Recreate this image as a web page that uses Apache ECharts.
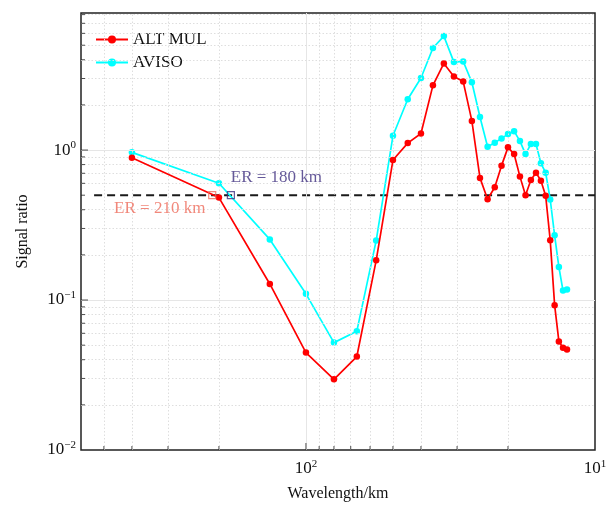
<!DOCTYPE html>
<html><head><meta charset="utf-8">
<script src="https://cdn.jsdelivr.net/npm/echarts@6/dist/echarts.min.js"></script>
<style>html,body{margin:0;padding:0;background:#fff}#c{width:610px;height:507px}</style>
</head><body><div id="c"></div>
<script>
// ---- data ----
const wavelengths = [25,50,75,100,125,150,175,200,225,250,275,300,325,350,375,400,425,450,475,500,525,550,575,600,625,650,675,700,725,750,775,800];
const altMul = [0.889,0.482,0.128,0.0446,0.0296,0.042,0.184,0.858,1.113,1.29,2.70,3.78,3.09,2.86,1.565,0.652,0.47,0.565,0.787,1.042,0.94,0.665,0.50,0.632,0.706,0.625,0.496,0.25,0.0924,0.053,0.0481,0.0467];
const aviso = [0.965,0.601,0.2535,0.110,0.052,0.062,0.249,1.245,2.18,3.02,4.79,5.75,3.86,3.90,2.83,1.66,1.052,1.118,1.196,1.277,1.337,1.148,0.94,1.096,1.096,0.816,0.706,0.468,0.27,0.166,0.1157,0.1175];
const thresholdY = 0.5;
const thresholdX = [18.5, 1000];
const erPoints = [[47.4, 0.5], [55, 0.5]];
const erLabels = ['ER = 210 km', 'ER = 180 km'];
const xTickLabels = [[100, '10', '2'], [1000, '10', '1']];
const yTickLabels = [[0.01, '10', '\u22122'], [0.1, '10', '\u22121'], [1, '10', '0']];
const xMinorTicks = [20, 25, 33.333, 50, 111.111, 125, 142.857, 166.667, 200, 250, 333.333, 500];
const xMajorTicks = [100];
const yMinorTicks = [0.02,0.03,0.04,0.05,0.06,0.07,0.08,0.09,0.2,0.3,0.4,0.5,0.6,0.7,0.8,0.9,2,3,4,5,6,7,8];
const yMajorTicks = [0.1, 1];

const X_MIN = 16.6667, X_MAX = 1000, Y_MIN = 0.01, Y_MAX = 8.2;
const FONT = 'Liberation Serif';
const AX = '#222';

function fmt(list) {
  return function (v) {
    for (const t of list) {
      if (Math.abs(Math.log10(v) - Math.log10(t[0])) < 1e-6) return t[1] + '{s|' + t[2] + '}';
    }
    return '';
  };
}
const richSup = {
  s: { fontSize: 11, fontFamily: FONT, color: '#111', padding: [0, 0, 9, 0] }
};

const chart = echarts.init(document.getElementById('c'), null, { renderer: 'canvas' });

const gridLines = [];
xMajorTicks.forEach(v => gridLines.push({ xAxis: v, lineStyle: { color: '#e6e6e6', type: 'solid', width: 1 } }));
xMinorTicks.forEach(v => gridLines.push({ xAxis: v, lineStyle: { color: '#dedede', type: [1.5, 2], width: 1 } }));
yMajorTicks.forEach(v => gridLines.push({ yAxis: v, lineStyle: { color: '#e6e6e6', type: 'solid', width: 1 } }));
yMinorTicks.filter(v => v !== thresholdY).forEach(v => gridLines.push({ yAxis: v, lineStyle: { color: '#dedede', type: [1.5, 2], width: 1 } }));

function tickSeries(data, size, offset) {
  return {
    type: 'scatter', silent: true, clip: false, z: 10,
    symbol: 'rect', symbolSize: size, symbolOffset: offset,
    itemStyle: { color: AX }, data: data, tooltip: { show: false }
  };
}

chart.setOption({
  animation: false,
  backgroundColor: '#fff',
  grid: { left: 81, right: 15, top: 13, bottom: 56, show: true, borderColor: AX, borderWidth: 1.5, backgroundColor: 'transparent' },
  legend: {
    data: ['ALT MUL', 'AVISO'], orient: 'vertical', left: 90, top: 26,
    itemWidth: 32, itemHeight: 10, itemGap: 6,
    textStyle: { fontFamily: FONT, fontSize: 17, color: '#111' }
  },
  xAxis: {
    type: 'log', logBase: 10, min: X_MIN, max: X_MAX, splitNumber: 2,
    name: 'Wavelength/km', nameLocation: 'middle', nameGap: 36,
    nameTextStyle: { fontFamily: FONT, fontSize: 16, color: '#111' },
    axisLine: { show: false }, axisTick: { show: false }, splitLine: { show: false },
    axisLabel: { show: true, showMinLabel: true, showMaxLabel: true, margin: 9, formatter: fmt(xTickLabels),
      fontFamily: FONT, fontSize: 17, color: '#111', rich: richSup }
  },
  yAxis: {
    type: 'log', logBase: 10, min: Y_MIN, max: Y_MAX, splitNumber: 3,
    name: 'Signal ratio', nameLocation: 'middle', nameGap: 50,
    nameTextStyle: { fontFamily: FONT, fontSize: 16, color: '#111' },
    axisLine: { show: false }, axisTick: { show: false }, splitLine: { show: false },
    axisLabel: { show: true, showMinLabel: true, showMaxLabel: true, margin: 5, formatter: fmt(yTickLabels),
      fontFamily: FONT, fontSize: 17, color: '#111', rich: richSup }
  },
  series: [
    {
      name: 'gridlines', type: 'line', data: [], silent: true, z: 0,
      markLine: { silent: true, symbol: ['none', 'none'], label: { show: false }, animation: false, data: gridLines }
    },
    {
      name: 'threshold', type: 'line', silent: true, z: 3, symbol: 'none',
      lineStyle: { color: '#1a1a1a', width: 2, type: [8, 5] },
      data: thresholdX.map(x => [x, thresholdY])
    },
    {
      name: 'ALT MUL', type: 'line', z: 5,
      data: wavelengths.map((x, i) => [x, altMul[i]]),
      symbol: 'circle', symbolSize: 6.5,
      lineStyle: { color: '#ff0000', width: 1.7 }, itemStyle: { color: '#ff0000' }
    },
    {
      name: 'AVISO', type: 'line', z: 4,
      data: wavelengths.map((x, i) => [x, aviso[i]]),
      symbol: 'circle', symbolSize: 6.5,
      lineStyle: { color: '#00ffff', width: 1.7 }, itemStyle: { color: '#00ffff' }
    },
    {
      name: 'ER', type: 'scatter', z: 6, symbol: 'rect', symbolSize: 7,
      data: [
        { value: erPoints[0], itemStyle: { color: 'rgba(255,255,255,0)', borderColor: '#ee6a5a', borderWidth: 1.2 },
          label: { show: true, formatter: erLabels[0], position: [-94, 9], color: '#ee6a5a', fontFamily: FONT, fontSize: 17 } },
        { value: erPoints[1], itemStyle: { color: 'rgba(255,255,255,0)', borderColor: '#3f2f7f', borderWidth: 1.2 },
          label: { show: true, formatter: erLabels[1], position: [4, -22], color: '#3f2f7f', fontFamily: FONT, fontSize: 17 } }
      ]
    },
    tickSeries(yMinorTicks.map(v => [X_MIN, v]), [4, 1], [2, 0]),
    tickSeries(yMajorTicks.map(v => [X_MIN, v]), [7, 1], [3.5, 0]),
    tickSeries(xMinorTicks.map(v => [v, Y_MIN]), [1, 4], [0, -2]),
    tickSeries(xMajorTicks.map(v => [v, Y_MIN]), [1, 7], [0, -3.5])
  ]
});
</script></body></html>
